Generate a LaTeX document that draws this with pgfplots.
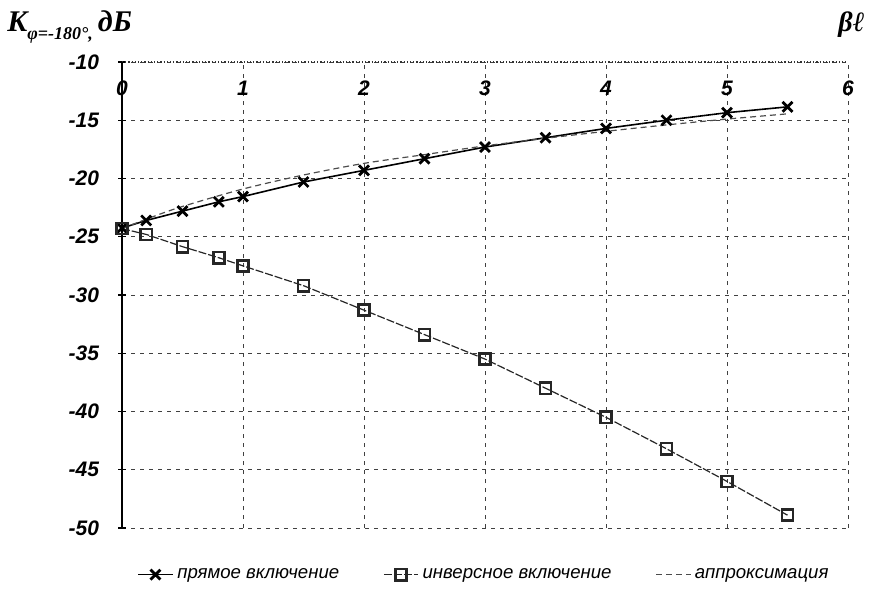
\documentclass[border=0pt]{standalone}
\usepackage{pgfplots}
\pgfplotsset{compat=1.18}
\usepackage{fontspec}
\setmainfont{Liberation Serif}
\setsansfont{Liberation Sans}
\begin{document}
\begin{tikzpicture}
\path[use as bounding box] (0,0) rectangle (438pt,297pt);
\begin{axis}[
  at={(61pt,33pt)}, anchor=south west,
  scale only axis, width=363pt, height=233pt,
  xmin=0, xmax=6, ymin=-50, ymax=-10,
  xtick={0,1,...,6}, ytick={-50,-45,...,-10},
  axis x line*=top, axis y line*=left,
  x axis line style={-, densely dotted, black!80, line width=0.6pt},
  y axis line style={-, black, line width=1pt},
  grid=major,
  major grid style={dash pattern=on 2pt off 2.5pt, black!75, line width=0.5pt},
  xtick style={draw=none},
  ytick style={black, line width=0.6pt},
  major tick length=4pt, tick align=center,
  /pgf/number format/assume math mode=true,
  ticklabel style={font=\sffamily\bfseries\itshape\fontsize{10.5}{12}\selectfont, text=black},
  xticklabel style={anchor=center, yshift=-15pt},
  yticklabel style={xshift=-6pt},
  clip=false,
  legend style={at={(0.5,-0.10)}, anchor=center, draw=none, fill=none,
    legend columns=3, font=\sffamily\itshape\fontsize{9.3}{11}\selectfont,
    /tikz/every even column/.append style={column sep=20pt}},
]
\addplot[black, line width=0.8pt, mark=x, mark size=3.5pt, mark options={line width=1.4pt, solid}] coordinates {
(0,-24.25) (0.2,-23.6) (0.5,-22.8) (0.8,-22.0) (1,-21.55) (1.5,-20.3) (2,-19.3)
(2.5,-18.3) (3,-17.3) (3.5,-16.5) (4,-15.7) (4.5,-15.0) (5,-14.35) (5.5,-13.85)};
\addlegendentry{прямое включение}
\addplot[black!85, line width=0.6pt, dash pattern=on 4pt off 1pt, mark=square, mark size=2.8pt, mark options={solid, line width=1.3pt, fill=white}] coordinates {
(0,-24.3) (0.2,-24.8) (0.5,-25.85) (0.8,-26.8) (1,-27.5) (1.5,-29.2) (2,-31.3)
(2.5,-33.4) (3,-35.5) (3.5,-38.0) (4,-40.5) (4.5,-43.2) (5,-46.0) (5.5,-48.9)};
\addlegendentry{инверсное включение}
\addplot[black!70, line width=0.6pt, densely dashed, smooth] coordinates {
(0,-24.3) (0.25,-23.3) (0.5,-22.4) (1,-20.9) (1.5,-19.7) (2,-18.7) (2.5,-17.95)
(3,-17.2) (3.5,-16.55) (4,-15.95) (4.5,-15.4) (5,-14.9) (5.5,-14.45)};
\addlegendentry{аппроксимация}
\end{axis}
\node[anchor=base west, inner sep=0] at (3.5pt,281pt) {\bfseries\itshape\fontsize{15}{15}\selectfont K\raisebox{-4pt}{\fontsize{9}{9}\selectfont φ=-180°,}\,дБ};
\node[anchor=base west, inner sep=0] at (419pt,281pt) {\bfseries\itshape\fontsize{14}{14}\selectfont βℓ};
\end{tikzpicture}
\end{document}
